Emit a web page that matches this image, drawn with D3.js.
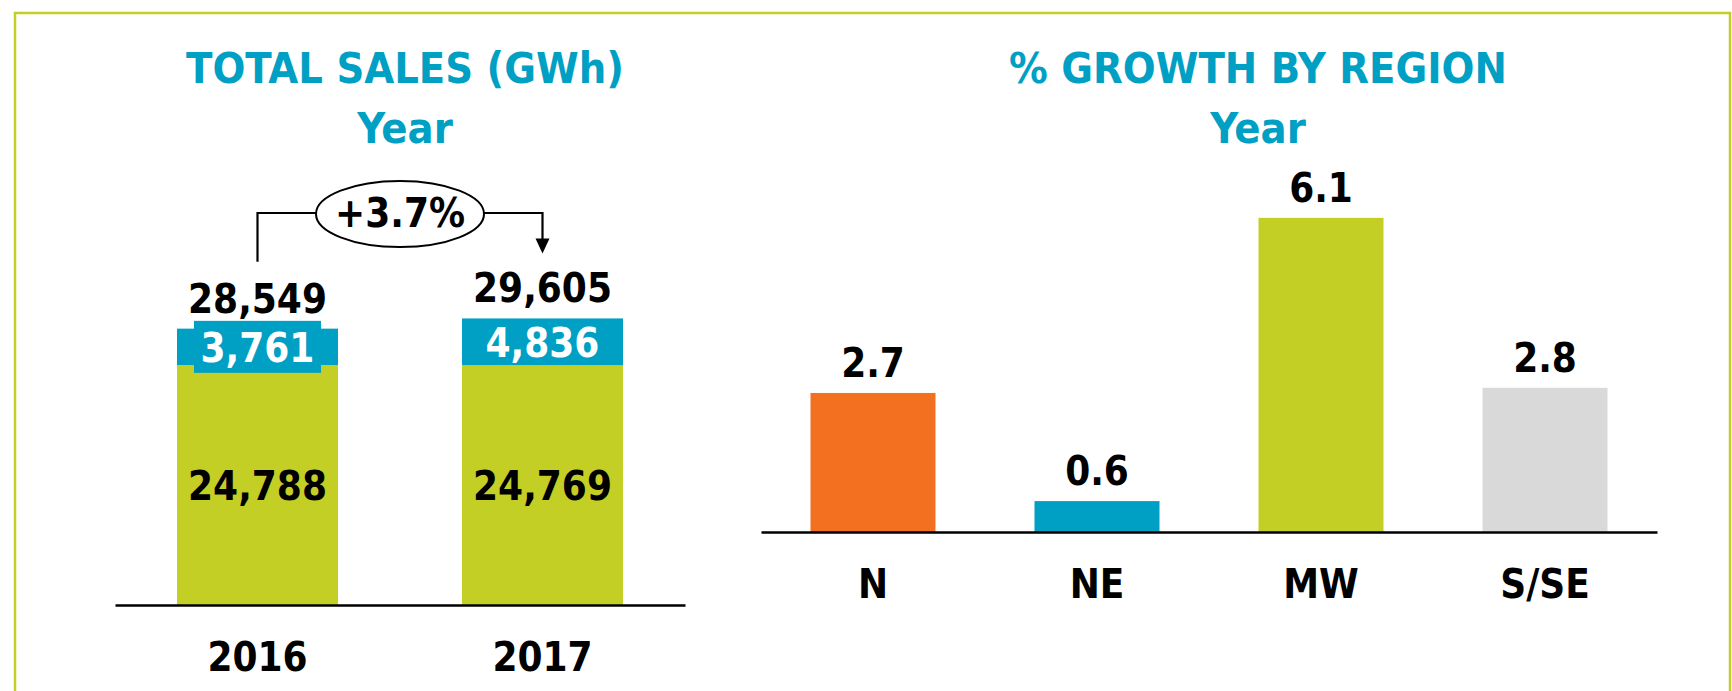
<!DOCTYPE html>
<html>
<head>
<meta charset="utf-8">
<script src="https://cdn.jsdelivr.net/npm/d3@7"></script>
<style>
  html, body { margin: 0; padding: 0; background: #fff; }
  svg { display: block; }
  text { font-family: "DejaVu Sans Condensed", "Liberation Sans Narrow", "DejaVu Sans", sans-serif; font-weight: bold; font-stretch: condensed; }
</style>
</head>
<body>
<svg id="chart" width="1732" height="691"></svg>
<script>
// ---- data ----
const years = ["2016", "2017"];
const lowerValues = [24788, 24769];   // lime segment
const upperValues = [3761, 4836];     // blue segment
const totalValues = [28549, 29605];
const growthLabel = "+3.7%";

const regions = ["N", "NE", "MW", "S/SE"];
const regionGrowth = [2.7, 0.6, 6.1, 2.8];

const leftTitle = ["TOTAL SALES (GWh)", "Year"];
const rightTitle = ["% GROWTH BY REGION", "Year"];

// ---- style ----
const LIME = "#c3cf24", BLUE = "#00a0c4", ORANGE = "#f37021", GREY = "#d9d9d9";
const regionColors = [ORANGE, BLUE, LIME, GREY];
const TITLE = "#00a0c4";
const fmt = d3.format(",");

const svg = d3.select("#chart");

// frame
svg.append("path")
  .attr("d", "M15,691 L15,13 L1730,13 L1730,691")
  .attr("fill", "none").attr("stroke", "#c3cf24").attr("stroke-width", 2.5);

// titles
function titles(lines, cx) {
  svg.append("text").attr("x", cx).attr("y", 83).attr("text-anchor", "middle")
    .attr("fill", TITLE).style("font-size", "43px").text(lines[0]);
  svg.append("text").attr("x", cx).attr("y", 143).attr("text-anchor", "middle")
    .attr("fill", TITLE).style("font-size", "43px").text(lines[1]);
}
titles(leftTitle, 405);
titles(rightTitle, 1258);

// ---- left: stacked bars ----
const xL = d3.scaleBand().domain(years).range([115, 685]).paddingInner(0.435).paddingOuter(0.2175);
const yL = d3.scaleLinear().domain([0, 30000]).range([605, 605 - 30000 * 0.00968]);
const gL = svg.append("g");

gL.selectAll("rect.low").data(years).join("rect")
  .attr("x", d => xL(d)).attr("width", xL.bandwidth())
  .attr("y", (d, i) => yL(lowerValues[i]))
  .attr("height", (d, i) => yL(0) - yL(lowerValues[i]))
  .attr("fill", LIME);

gL.selectAll("rect.up").data(years).join("rect")
  .attr("x", d => xL(d)).attr("width", xL.bandwidth())
  .attr("y", (d, i) => yL(lowerValues[i] + upperValues[i]))
  .attr("height", (d, i) => yL(lowerValues[i]) - yL(lowerValues[i] + upperValues[i]))
  .attr("fill", BLUE);

// label background where the segment is too short for the label
const boxH = 52;
years.forEach((d, i) => {
  const y0 = yL(lowerValues[i] + upperValues[i]), y1 = yL(lowerValues[i]);
  const cy = (y0 + y1) / 2;
  if (y1 - y0 < 44) {
    gL.append("rect")
      .attr("x", xL(d) + 17).attr("width", xL.bandwidth() - 34)
      .attr("y", cy - boxH / 2).attr("height", boxH).attr("fill", BLUE);
  }
  gL.append("text").attr("x", xL(d) + xL.bandwidth() / 2).attr("y", cy + 15)
    .attr("text-anchor", "middle").attr("fill", "#fff").style("font-size", "40px")
    .text(fmt(upperValues[i]));
  gL.append("text").attr("x", xL(d) + xL.bandwidth() / 2)
    .attr("y", (yL(0) + yL(lowerValues[i])) / 2 + 15)
    .attr("text-anchor", "middle").attr("fill", "#000").style("font-size", "40px")
    .text(fmt(lowerValues[i]));
  gL.append("text").attr("x", xL(d) + xL.bandwidth() / 2)
    .attr("y", yL(totalValues[i]) - 16)
    .attr("text-anchor", "middle").attr("fill", "#000").style("font-size", "40px")
    .text(fmt(totalValues[i]));
});

const axL = svg.append("g").attr("transform", `translate(0,${yL(0)})`)
  .call(d3.axisBottom(xL).tickSize(0).tickSizeOuter(0));
axL.select(".domain").attr("stroke", "#000").attr("stroke-width", 2.5);
axL.selectAll(".tick text").attr("y", 66).attr("dy", 0)
  .attr("fill", "#000").style("font-size", "40px")
  .style("font-family", "'DejaVu Sans Condensed', 'Liberation Sans Narrow', 'DejaVu Sans', sans-serif")
  .style("font-weight", "bold");

// growth annotation
const c0 = xL(years[0]) + xL.bandwidth() / 2, c1 = xL(years[1]) + xL.bandwidth() / 2;
const cx = (c0 + c1) / 2, lineY = 213, rx = 84, ry = 33;
const startY = yL(totalValues[0]) - 67, tipY = yL(totalValues[1]) - 65;
svg.append("path")
  .attr("d", `M${c0},${startY} L${c0},${lineY} L${cx - rx},${lineY} M${cx + rx},${lineY} L${c1},${lineY} L${c1},${tipY - 14}`)
  .attr("fill", "none").attr("stroke", "#000").attr("stroke-width", 2.2);
svg.append("path")
  .attr("d", `M${c1 - 7},${tipY - 15} L${c1 + 7},${tipY - 15} L${c1},${tipY} Z`)
  .attr("fill", "#000");
svg.append("ellipse").attr("cx", cx).attr("cy", lineY + 1).attr("rx", rx).attr("ry", ry)
  .attr("fill", "#fff").attr("stroke", "#000").attr("stroke-width", 2);
svg.append("text").attr("x", cx).attr("y", 227).attr("text-anchor", "middle")
  .attr("fill", "#000").style("font-size", "40px").text(growthLabel);

// ---- right: growth by region ----
const xR = d3.scaleBand().domain(regions).range([761, 1657]).paddingInner(0.442).paddingOuter(0.221);
const yR = d3.scaleLinear().domain([0, 7]).range([532, 532 - 7 * 51.5]);
const gR = svg.append("g");

gR.selectAll("rect").data(regions).join("rect")
  .attr("x", d => xR(d)).attr("width", xR.bandwidth())
  .attr("y", (d, i) => yR(regionGrowth[i]))
  .attr("height", (d, i) => yR(0) - yR(regionGrowth[i]))
  .attr("fill", (d, i) => regionColors[i]);

gR.selectAll("text").data(regions).join("text")
  .attr("x", d => xR(d) + xR.bandwidth() / 2)
  .attr("y", (d, i) => yR(regionGrowth[i]) - 16)
  .attr("text-anchor", "middle").attr("fill", "#000").style("font-size", "40px")
  .text((d, i) => regionGrowth[i].toFixed(1));

const axR = svg.append("g").attr("transform", `translate(0,${yR(0)})`)
  .call(d3.axisBottom(xR).tickSize(0).tickSizeOuter(0));
axR.select(".domain").attr("stroke", "#000").attr("stroke-width", 2.5);
axR.selectAll(".tick text").attr("y", 66).attr("dy", 0)
  .attr("fill", "#000").style("font-size", "40px")
  .style("font-family", "'DejaVu Sans Condensed', 'Liberation Sans Narrow', 'DejaVu Sans', sans-serif")
  .style("font-weight", "bold");
</script>
</body>
</html>
